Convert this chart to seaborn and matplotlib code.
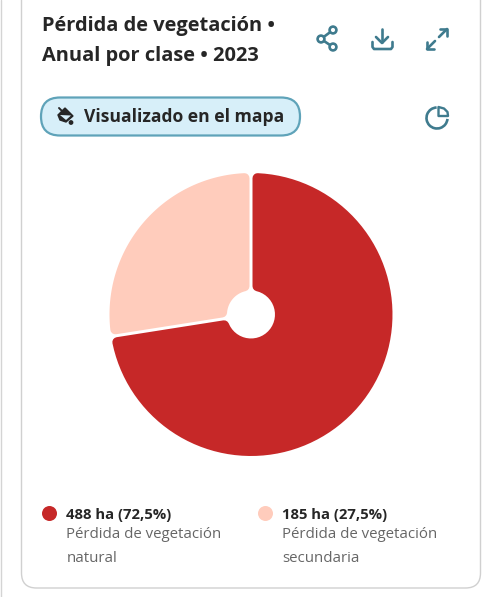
import numpy as np
import seaborn as sns
from matplotlib import pyplot as plt
from matplotlib.patches import Arc, Circle, FancyBboxPatch, PathPatch
from matplotlib.path import Path

sns.set_theme(style='white')
plt.rcParams['font.family'] = ['Open Sans', 'Noto Sans', 'DejaVu Sans']

title_lines = ['Pérdida de vegetación •', 'Anual por clase • 2023']
chip_label = 'Visualizado en el mapa'
classes = ['Pérdida de vegetación\nnatural', 'Pérdida de vegetación\nsecundaria']
hectares = [488, 185]
share_labels = ['488 ha (72,5%)', '185 ha (27,5%)']
palette = sns.color_palette(['#c62828', '#ffccbc'])

DARK = '#262626'
GREY = '#666666'
TEAL = '#3f7b8e'


def inset_wedge(theta1, theta2, r_out, r_in, side):
    # wedge outline moved inwards, keeps the gap between slices parallel
    t1, t2 = np.radians(theta1), np.radians(theta2)
    a1 = t1 + np.arcsin(side / r_out)
    a2 = t2 - np.arcsin(side / r_out)
    b1 = t1 + np.arcsin(side / r_in)
    b2 = t2 - np.arcsin(side / r_in)
    outer = np.linspace(a1, a2, 90)
    inner = np.linspace(b2, b1, 30)
    xs = np.r_[r_out * np.cos(outer), r_in * np.cos(inner)]
    ys = np.r_[r_out * np.sin(outer), r_in * np.sin(inner)]
    pts = np.column_stack([xs, ys])
    return Path(np.vstack([pts, pts[0]]), closed=True)


fig = plt.figure(figsize=(5, 5.97), dpi=100)
ax = fig.add_axes([0, 0, 1, 1])
ax.set_xlim(0, 500)
ax.set_ylim(597, 0)
ax.axis('off')

# card outline
ax.plot([0.5, 0.5], [0, 597], color='#d4d4d4', lw=1)
ax.add_patch(FancyBboxPatch((21.5, -40), 459, 628, boxstyle='round,pad=0,rounding_size=15',
                            fc='white', ec='#d0d0d0', lw=1))

for y, line in zip([25.5, 55.5], title_lines):
    ax.text(42, y, line, fontsize=14.4, fontweight='bold', color=DARK, va='center')

# chip
ax.add_patch(FancyBboxPatch((41, 97.5), 259, 38, boxstyle='round,pad=0,rounding_size=19',
                            fc='#d7eff9', ec='#5fa3b9', lw=1.6))
ax.text(84, 117.5, chip_label, fontsize=12.6, fontweight='bold', color=DARK, va='center')

# bucket icon
ax.add_patch(plt.Polygon([[58, 115], [65, 108], [73, 116], [66, 122], [60, 120]], fc=DARK, ec=DARK, lw=1))
ax.add_patch(plt.Polygon([[60, 115], [71, 115.5], [66, 120]], fc='#d7eff9', ec='none'))
ax.plot([59, 62], [108, 111], color=DARK, lw=1.4)
ax.add_patch(Circle((71, 122.5), 2.4, fc=DARK, ec='none'))

# share icon
for cx, cy in [(333, 30), (321, 39), (333, 47)]:
    ax.add_patch(Circle((cx, cy), 3.4, fc='white', ec=TEAL, lw=1.9, zorder=3))
ax.plot([333, 321, 333], [30, 39, 47], color=TEAL, lw=1.9, zorder=2)

# download icon
ax.plot([382, 382], [29, 42], color=TEAL, lw=1.9)
ax.plot([376, 382, 388], [37, 43, 37], color=TEAL, lw=1.9)
ax.plot([372.5, 372.5, 374, 391, 392.5, 392.5], [42, 47, 49, 49, 47, 42], color=TEAL, lw=1.9)

# expand icon
ax.plot([427, 435], [49, 41], color=TEAL, lw=1.9)
ax.plot([427, 427, 434], [42, 49, 49], color=TEAL, lw=1.9)
ax.plot([439, 447], [37, 29], color=TEAL, lw=1.9)
ax.plot([440, 447, 447], [29, 29, 36], color=TEAL, lw=1.9)

# chart type icon
ax.add_patch(Arc((437, 118), 21, 21, theta1=5, theta2=268, ec=TEAL, lw=1.9))
ax.add_patch(plt.Polygon([[438.5, 107], [444, 108.5], [447.5, 112], [448, 116], [438.5, 116]],
                         fc='none', ec=TEAL, lw=1.7, joinstyle='round'))

# pie, axes limits in pixels so the outline offsets below are easy to read
radius = 141.5
hole = 24
center_y = 314.5
pie_ax = fig.add_axes([(251 - radius) / 500, 1 - (center_y + radius) / 597, 2 * radius / 500, 2 * radius / 597])
wedges, _ = pie_ax.pie(hectares, colors=palette, startangle=90, counterclock=False,
                       radius=radius, wedgeprops={'width': radius - hole})
pie_ax.set_xlim(-radius, radius)
pie_ax.set_ylim(-radius, radius)
pie_ax.patch.set_alpha(0)

corner = 5
gap = 3
for w, color in zip(wedges, palette):
    w.set_visible(False)
    outline = inset_wedge(w.theta1, w.theta2, radius - corner, hole + corner, gap / 2 + corner)
    pie_ax.add_patch(PathPatch(outline, fc=color, ec=color, lw=2 * corner * 72 / 100,
                               joinstyle='round', clip_on=False))

# legend
for x, color, head, label in zip([49.5, 265.5], palette, share_labels, classes):
    ax.add_patch(Circle((x, 513.5), 7.5, fc=color, ec='none'))
    ax.text(x + 17, 514.5, head, fontsize=10.7, fontweight='bold', color=DARK, va='center')
    first, second = label.split('\n')
    ax.text(x + 17, 535, first, fontsize=10.85, color=GREY, va='center')
    ax.text(x + 17, 558.5, second, fontsize=10.85, color=GREY, va='center')

plt.savefig('out.png', dpi=100)
